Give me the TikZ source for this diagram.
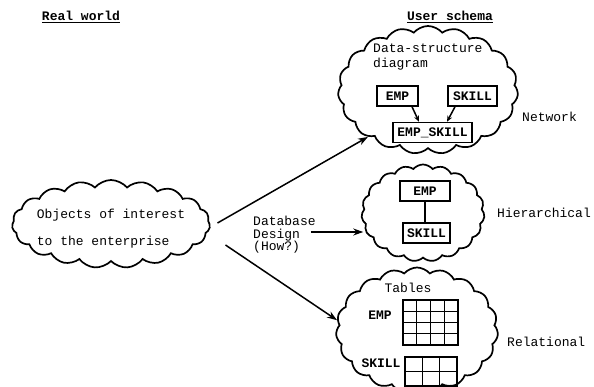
\documentclass[tikz,border=0pt]{standalone}
\usepackage{fontspec}
\setmonofont{Liberation Mono}
\usetikzlibrary{shapes.symbols, positioning, arrows.meta}
\newcommand{\typer}{\ttfamily\fontsize{13}{15}\selectfont}
\tikzset{
  % Cloud style
  blob/.style={cloud, draw, line width=1.7pt, cloud puffs=19, cloud puff arc=100,
    cloud ignores aspect, inner sep=0pt},
  % Record boxes
  rec/.style={rectangle, draw, line width=1.5pt, inner sep=2pt, minimum height=20pt, font=\typer\bfseries},
  % Labels
  txt/.style={font=\typer, inner sep=0pt},
  head/.style={font=\typer\bfseries, inner sep=0pt},
  arr/.style={line width=1.5pt, -{Stealth[length=10pt,width=7pt]}},
  cell/.style={line width=1.4pt},
}

\begin{document}
\begin{tikzpicture}[x=1pt, y=-1pt]
  \useasboundingbox (0,0) rectangle (594,387);
  \clip (0,0) rectangle (594,387);

  % --- HEADINGS ---
  \node[head] (realw) at (81,17) {\underline{Real world}};
  \node[head] (users) at (450,17) {\underline{User schema}};

  % --- REAL WORLD ---
  \node[blob, minimum width=198pt, minimum height=88pt] (obj) at (111,224) {};
  \node[txt, align=left] (objtxt) at (111,229) {Objects of interest\\[12pt]to the enterprise};

  % --- NETWORK ---
  \node[blob, minimum width=180pt, minimum height=128pt] (net) at (428,90) {};
  \node[txt, align=left, anchor=west] (dsd) at (373,57) {Data-structure\\diagram};
  \node[rec, minimum width=41pt] (emp1) at (397.5,96) {EMP};
  \node[rec, minimum width=49pt] (skill1) at (472.5,96) {SKILL};
  \node[rec, minimum width=79pt] (empsk) at (432.5,132.5) {EMP\_SKILL};
  \draw[arr, -{Stealth[length=6pt,width=5pt]}] ([xshift=14.5pt]emp1.south) -- ([xshift=-13.5pt]empsk.north);
  \draw[arr, -{Stealth[length=6pt,width=5pt]}] ([xshift=-17.5pt]skill1.south) -- ([xshift=14.5pt]empsk.north);
  \node[txt, anchor=west] (netlbl) at (522,117) {Network};

  % --- HIERARCHICAL ---
  \node[blob, minimum width=123pt, minimum height=97pt] (hier) at (423,213) {};
  \node[rec, minimum width=50pt] (emp2) at (425,191) {EMP};
  \node[rec, minimum width=47pt] (skill2) at (426.5,233) {SKILL};
  \draw[line width=1.3pt] (emp2.south) -- (emp2.south |- skill2.north);
  \node[txt, anchor=west] (hierlbl) at (497,213) {Hierarchical};

  % --- RELATIONAL ---
  \node[blob, minimum width=162pt, minimum height=125pt] (rel) at (417,330) {};
  \node[txt] (tables) at (408,288) {Tables};
  \node[txt, font=\typer\bfseries] (emplbl) at (380,315) {EMP};
  \node[txt, font=\typer\bfseries] (skilllbl) at (381,363) {SKILL};
  \foreach \c in {0,...,3}
    \foreach \r in {0,...,3}
      \draw[cell] (403+\c*13.75, 300+\r*11.25) rectangle ++(13.75,11.25);
  \foreach \c in {0,...,2}
    \foreach \r in {0,1}
      \draw[cell] (405+\c*17.33, 357+\r*14.5) rectangle ++(17.33,14.5);
  \node[txt, anchor=west] (rellbl) at (507,342) {Relational};

  % --- DESIGN ARROWS ---
  \node[txt, align=left, anchor=west, font=\ttfamily\fontsize{13}{12.5}\selectfont] (design) at (253,235) {Database\\Design\\(How?)};
  \draw[arr] ([xshift=7pt,yshift=1pt]obj.east) -- (net.218);
  \draw[arr] ([xshift=-5pt,yshift=3pt]design.east) -- ([xshift=2pt,yshift=3pt]design.east -| hier.west);
  \draw[arr] ([xshift=15pt,yshift=-21pt]obj.east) -- (rel.173);

\end{tikzpicture}
\end{document}
